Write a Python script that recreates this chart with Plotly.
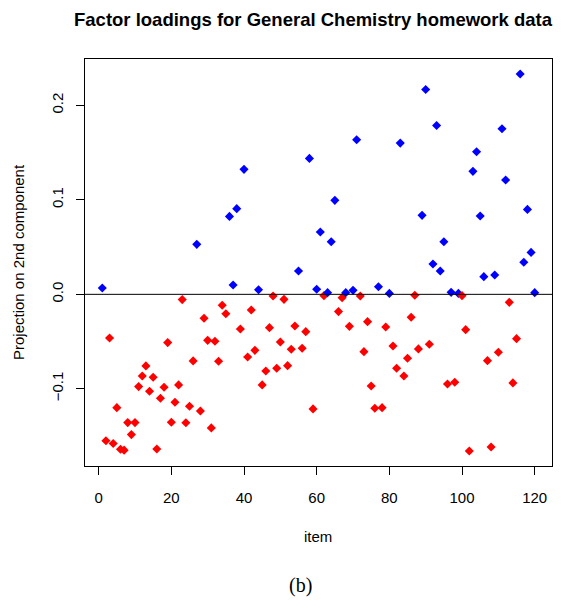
import plotly.graph_objects as go

items = list(range(1, 121))
loadings = [
    0.0067, -0.155, -0.0462, -0.158, -0.120, -0.164, -0.165, -0.1358, -0.1485, -0.1358,
    -0.0977, -0.0864, -0.0758, -0.1026, -0.0878, -0.1637, -0.110, -0.0984, -0.0511, -0.1354,
    -0.1143, -0.0959, -0.0056, -0.136, -0.1185, -0.0705, 0.0529, -0.1235, -0.0254, -0.0487,
    -0.1414, -0.0497, -0.0709, -0.0116, -0.0205, 0.0825, 0.0099, 0.0907, -0.0367, 0.1323,
    -0.0663, -0.0166, -0.0593, 0.0049, -0.0959, -0.0811, -0.0353, -0.0018, -0.0783, -0.0504,
    -0.0053, -0.0755, -0.0582, -0.0335, 0.0247, -0.0571, -0.0395, 0.1439, -0.1213, 0.0053,
    0.066, -0.0014, 0.0018, 0.0557, 0.0995, -0.0183, -0.0035, 0.0018, -0.0339, 0.0042,
    0.1637, -0.0018, -0.0607, -0.0289, -0.097, -0.1206, 0.0081, -0.12, -0.0346, 0.001,
    -0.0547, -0.0783, 0.1601, -0.0864, -0.0677, -0.0243, -0.001, -0.0578, 0.0836, 0.2169,
    -0.0529, 0.0321, 0.1788, 0.0247, 0.0557, -0.0949, 0.0021, -0.0931, 0.001, -0.0014,
    -0.0374, -0.1658, 0.1302, 0.151, 0.0829, 0.0187, -0.0702, -0.1616, 0.0205, -0.0614,
    0.1753, 0.121, -0.0085, -0.0938, -0.0469, 0.2332, 0.0339, 0.0899, 0.0444, 0.0018,
]
x_ticks = [0, 20, 40, 60, 80, 100, 120]
y_ticks = [-0.1, 0.0, 0.1, 0.2]
y_ticktext = ["\u22120.1", "0.0", "0.1", "0.2"]

colors = ["#0000FF" if v > 0 else "#FF0000" for v in loadings]

FONT = "Liberation Sans, Arial, Helvetica, sans-serif"

fig = go.Figure()
fig.add_trace(go.Scatter(
    x=items, y=loadings, mode="markers",
    marker=dict(symbol="diamond", size=7, color=colors, line=dict(width=0)),
    showlegend=False, hoverinfo="x+y",
))

fig.add_shape(type="line", xref="paper", yref="y", x0=0, x1=1, y0=0, y1=0,
              line=dict(color="black", width=1))

# data range with R-style 4% extension
xmin, xmax = min(items), max(items)
ymin, ymax = min(loadings), max(loadings)
xpad = 0.04 * (xmax - xmin)
ypad = 0.04 * (ymax - ymin)

fig.update_xaxes(
    range=[xmin - xpad, xmax + xpad],
    tickvals=x_ticks, ticktext=[str(t) for t in x_ticks],
    ticks="outside", ticklen=8, tickwidth=1, tickcolor="black",
    showline=True, linecolor="black", linewidth=1, mirror=True,
    showgrid=False, zeroline=False,
    tickfont=dict(family=FONT, size=15, color="black"),
    ticklabelstandoff=10,
)
fig.update_yaxes(
    range=[ymin - ypad, ymax + ypad],
    tickvals=y_ticks, ticktext=y_ticktext, tickangle=-90,
    ticks="outside", ticklen=8, tickwidth=1, tickcolor="black",
    showline=True, linecolor="black", linewidth=1, mirror=True,
    showgrid=False, zeroline=False,
    tickfont=dict(family=FONT, size=15, color="black"),
    ticklabelstandoff=7,
)

L, R, T, B = 85, 12, 59, 134
W, H = 564, 600
pw, ph = W - L - R, H - T - B

def px(xp):
    return (xp - L) / pw

def py(yp):
    return (H - B - yp) / ph

fig.add_annotation(text="<b>Factor loadings for General Chemistry homework data</b>",
                   xref="paper", yref="paper", x=px(313), y=py(20),
                   xanchor="center", yanchor="middle", showarrow=False,
                   font=dict(family=FONT, size=18.5, color="black"))
fig.add_annotation(text="item", xref="paper", yref="paper", x=px(318), y=py(536),
                   xanchor="center", yanchor="middle", showarrow=False,
                   font=dict(family=FONT, size=15, color="black"))
fig.add_annotation(text="Projection on 2nd component", xref="paper", yref="paper",
                   x=px(18), y=py(262), textangle=-90,
                   xanchor="center", yanchor="middle", showarrow=False,
                   font=dict(family=FONT, size=15, color="black"))
fig.add_annotation(text="(b)", xref="paper", yref="paper", x=px(300), y=py(585),
                   xanchor="center", yanchor="middle", showarrow=False,
                   font=dict(family="Liberation Serif, DejaVu Serif, serif", size=20, color="black"))

fig.update_layout(
    width=W, height=H,
    margin=dict(l=L, r=R, t=T, b=B),
    paper_bgcolor="white", plot_bgcolor="white",
)

fig.write_html("out.html")
